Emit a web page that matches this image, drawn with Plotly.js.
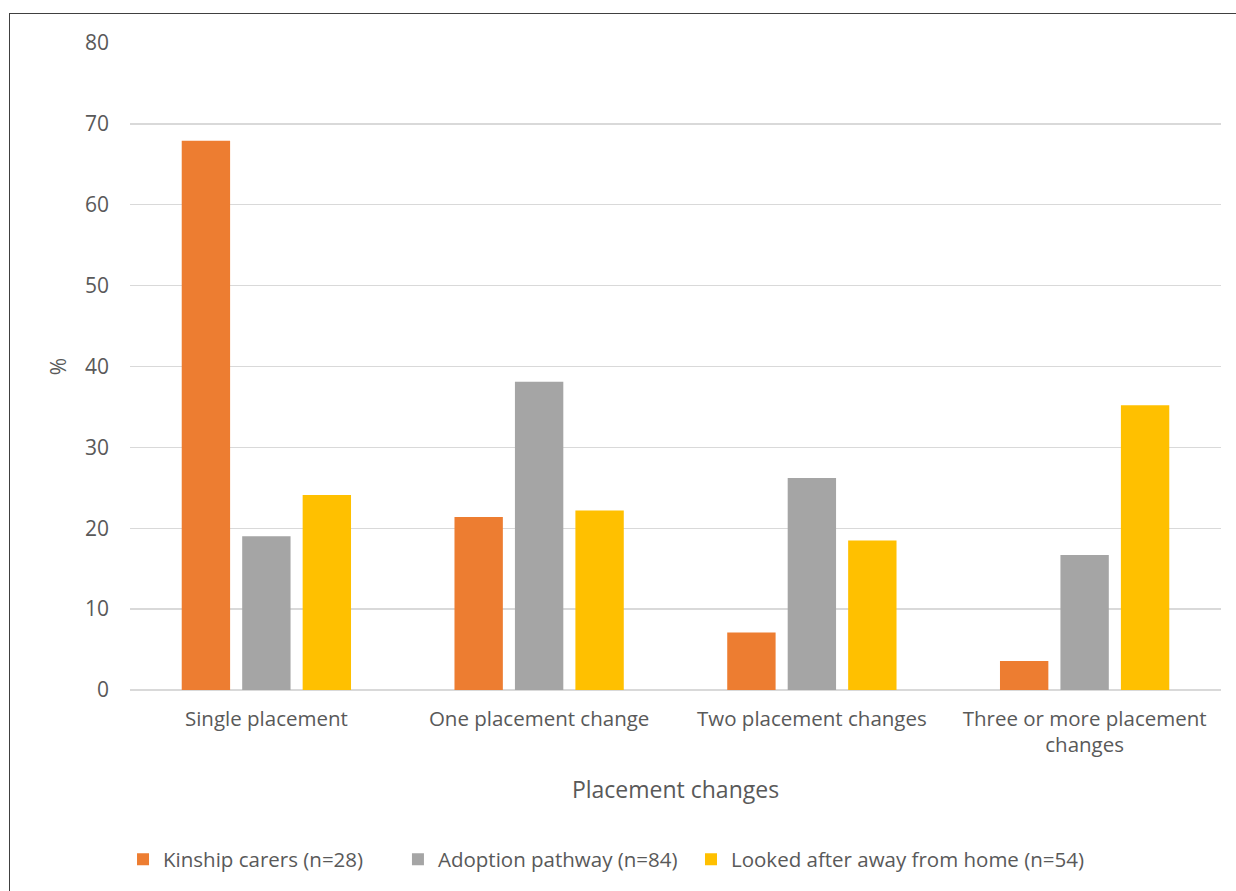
<!DOCTYPE html>
<html><head><meta charset="utf-8">
<script src="https://cdn.plot.ly/plotly-3.0.1.min.js"></script>
<style>
html,body{margin:0;padding:0;background:#fff;overflow:hidden;}
#chart{width:1236px;height:891px;}
#frame{position:absolute;left:9px;top:13px;width:1400px;height:1000px;border:1.5px solid #404040;pointer-events:none;}
</style></head>
<body>
<div id="chart"></div>
<div id="frame"></div>
<script>
const categories = ["Single placement", "One placement change", "Two placement changes", "Three or more placement<br>changes"];
const seriesNames = ["Kinship carers (n=28)", "Adoption pathway (n=84)", "Looked after away from home (n=54)"];
const kinship = [67.9, 21.4, 7.1, 3.6];
const adoption = [19.0, 38.1, 26.2, 16.7];
const lookedAfter = [24.1, 22.2, 18.5, 35.2];
const colors = ["#ED7D31", "#A5A5A5", "#FFC000"];
const yTicks = [0, 10, 20, 30, 40, 50, 60, 70, 80];

const legendIds = ["legend", "legend2", "legend3"];
const legendX = [-0.0064, 0.2456, 0.5142];

const values = [kinship, adoption, lookedAfter];
const traces = values.map((v, i) => ({
  type: "bar", x: categories, y: v, name: seriesNames[i],
  marker: {color: colors[i]}, hoverinfo: "x+y+name", legend: legendIds[i]
}));

const font = {family: "Open Sans, Noto Sans, sans-serif", color: "#595959"};
const layout = {
  width: 1236, height: 891,
  margin: {l: 130, r: 15, t: 43, b: 201},
  paper_bgcolor: "#fff", plot_bgcolor: "#fff",
  barmode: "group", bargap: 0.335, bargroupgap: 0.2,
  font: Object.assign({size: 20}, font),
  xaxis: {
    showgrid: false, showline: false, zeroline: false, ticks: "",
    ticklabelstandoff: 14, tickangle: 0, automargin: false,
    tickfont: Object.assign({size: 20.5}, font),
    title: {text: "Placement changes", font: Object.assign({size: 23}, font), standoff: 24}
  },
  yaxis: {
    range: [0, 80], tickvals: yTicks, ticktext: yTicks.map(String),
    showgrid: true, gridcolor: "#D9D9D9", gridwidth: 1.3,
    zeroline: true, zerolinecolor: "#D9D9D9", zerolinewidth: 1.3,
    showline: false, ticks: "", ticklabelstandoff: 20, automargin: false,
    tickfont: Object.assign({size: 21}, font),
    title: {text: "%", font: Object.assign({size: 21}, font), standoff: 12}
  },
  showlegend: true
};
legendIds.forEach((id, i) => {
  layout[id] = {
    orientation: "h", x: legendX[i], xanchor: "left", y: -0.262, yanchor: "middle",
    font: Object.assign({size: 20.5}, font), bgcolor: "rgba(0,0,0,0)"
  };
});
Plotly.newPlot("chart", traces, layout, {displayModeBar: false, staticPlot: true});
</script>
</body></html>
